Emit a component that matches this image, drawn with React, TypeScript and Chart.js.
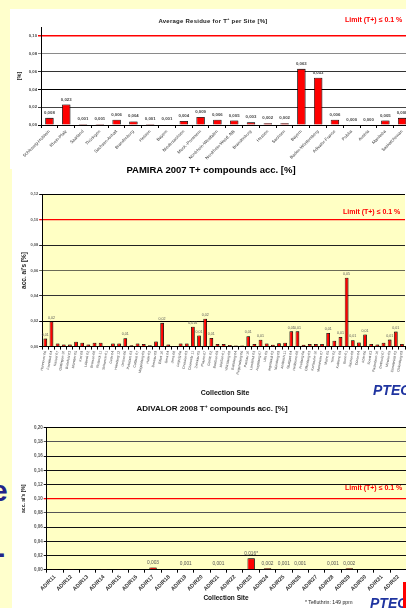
import React, { useEffect, useRef } from "react";
import { Chart, registerables } from "chart.js";

Chart.register(...registerables);

const FONT = "'Liberation Sans', Arial, Helvetica, sans-serif";
const LIMIT = 0.1;
const Y_STEP = 0.02;

// ---------- Chart 1: Average Residue for T+ per Site ----------
const residueSites = [
  "Schleswig-Holstein", "Rhein-Pfalz", "Saarland", "Thüringen", "Sachsen-Anhalt",
  "Brandenburg", "Hessen", "Bayern", "Niedersachsen", "Meck.-Pommern",
  "Nordrhein-Westfalen", "Nordrhein-Westf. NB", "Brandenburg", "Hessen", "Sachsen",
  "Bayern", "Baden-Württemberg", "Adivalor-France", "Polska", "Austria",
  "Manitoba", "Saskatchewan",
];
const residueValues = [
  0.008, 0.023, 0.001, 0.001, 0.006, 0.004, 0.001, 0.0006, 0.0045, 0.009,
  0.006, 0.005, 0.003, 0.002, 0.002, 0.063, 0.053, 0.006, 0, 0, 0.005, 0.008,
];
const residueValueLabels = [
  "0,008", "0,023", "0,001", "0,001", "0,006", "0,004", "0,001", "0,001", "0,004", "0,009",
  "0,006", "0,005", "0,003", "0,002", "0,002", "0,063", "0,053", "0,006", "0,000", "0,000",
  "0,005", "0,008",
];
const residueYMax = 0.11;

// ---------- Chart 2: PAMIRA 2007 ----------
const pamiraSites = [
  "Hannover 06", "Frankfurt 04", "Kassel 07", "Göttingen 10", "Bielefeld 03",
  "Münster 05", "Kiel 09", "Lübeck 02", "Bremen 08", "Rostock 11",
  "Schwerin 01", "Celle 04", "Hamburg 12", "Uelzen 06", "Potsdam 03",
  "Cottbus 07", "Magdeburg 05", "Halle 02", "Dessau 09", "Erfurt 10",
  "Gera 04", "Jena 08", "Leipzig 06", "Dresden 03", "Chemnitz 11",
  "Zwickau 05", "Plauen 07", "Görlitz 02", "Bautzen 09", "Meißen 01",
  "Würzburg 08", "Bamberg 04", "Regensburg 06", "Passau 10", "Landshut 03",
  "Augsburg 07", "Ulm 05", "Ingolstadt 02", "Nürnberg 09", "Ansbach 11",
  "Stuttgart 04", "Heilbronn 08", "Freiburg 06", "Offenburg 03", "Karlsruhe 10",
  "Mannheim 07", "Mainz 05", "Trier 02", "Koblenz 09", "Bonn 01",
  "Aachen 08", "Düren 04", "Köln 06", "Soest 03", "Paderborn 10",
  "Detmold 07", "Minden 05", "Osnabrück 02", "Oldenburg 09",
];
const pamiraValues = [
  0.0063, 0.0198, 0.0025, 0.0016, 0.0016, 0.0038, 0.003, 0.0016, 0.003, 0.003,
  0, 0.0025, 0.0025, 0.0066, 0.001, 0.0025, 0.002, 0.001, 0.004, 0.0187,
  0.0016, 0, 0.0025, 0.0025, 0.0157, 0.0088, 0.022, 0.0068, 0.002, 0.002,
  0.0013, 0.0008, 0.0008, 0.0082, 0.002, 0.0054, 0.0025, 0.0014, 0.0027, 0.003,
  0.012, 0.012, 0.0014, 0.002, 0.002, 0.002, 0.0107, 0.0046, 0.0076, 0.0542,
  0.005, 0.0033, 0.0096, 0.002, 0.0016, 0.003, 0.0055, 0.0118, 0.002,
];
const pamiraValueLabels = [
  "0,01", "0,02", "", "", "", "", "", "", "", "",
  "", "", "", "0,01", "", "", "", "", "", "0,02",
  "", "", "", "", "0,016", "0,01", "0,02", "0,01", "", "",
  "", "", "", "0,01", "", "0,01", "", "", "", "",
  "0,01", "0,01", "", "", "", "", "0,01", "", "0,01", "0,05",
  "0,01", "", "0,01", "", "", "", "0,01", "0,01", "",
];
const pamiraYMax = 0.12;

// ---------- Chart 3: ADIVALOR 2008 ----------
const adivalorSites = [
  "ADIR11", "ADIR12", "ADIR13", "ADIR14", "ADIR15", "ADIR16", "ADIR17", "ADIR18",
  "ADIR19", "ADIR20", "ADIR21", "ADIR22", "ADIR23", "ADIR24", "ADIR25", "ADIR26",
  "ADIR27", "ADIR28", "ADIR29", "ADIR30", "ADIR31", "ADIR32",
];
const adivalorValues = [
  0.001, 0.001, 0, 0.001, 0.001, 0, 0.003, 0, 0.001, 0, 0.001,
  0.0005, 0.016, 0.002, 0.001, 0.001, 0, 0.001, 0.002, 0, 0, 0,
];
const adivalorValueLabels = [
  "", "", "", "", "", "", "0,003", "", "0,001", "", "0,001",
  "", "0,016*", "0,002", "0,001", "0,001", "", "0,001", "0,002", "", "", "",
];
const adivalorYMax = 0.2;

// ---------- plugins ----------
const plotBgPlugin = {
  id: "plotBg",
  beforeDraw(chart: any, _a: any, opts: any) {
    if (!opts || !opts.color) return;
    const { ctx, chartArea: a } = chart;
    ctx.save();
    ctx.fillStyle = opts.color;
    ctx.fillRect(a.left, a.top, a.right - a.left, a.bottom - a.top);
    ctx.restore();
  },
};

const barShadowPlugin = {
  id: "barShadow",
  beforeDatasetsDraw(chart: any, _a: any, opts: any) {
    const ctx = chart.ctx;
    ctx.save();
    ctx.shadowColor = (opts && opts.color) || "rgba(0,0,0,0.35)";
    ctx.shadowOffsetX = (opts && opts.dx) || 1.5;
    ctx.shadowOffsetY = (opts && opts.dy) || 0;
    ctx.shadowBlur = 0;
  },
  afterDatasetsDraw(chart: any) {
    chart.ctx.restore();
  },
};

const valueLabelPlugin = {
  id: "valueLabels",
  afterDraw(chart: any, _a: any, opts: any) {
    if (!opts || !opts.labels) return;
    const ctx = chart.ctx;
    const meta = chart.getDatasetMeta(0);
    ctx.save();
    ctx.font = opts.font;
    ctx.fillStyle = opts.color;
    ctx.textAlign = "center";
    ctx.textBaseline = "bottom";
    meta.data.forEach((el: any, i: number) => {
      const t = opts.labels[i];
      if (t) ctx.fillText(t, el.x, el.y - opts.offset);
    });
    ctx.restore();
  },
};

type PanelProps = {
  categories: string[];
  values: number[];
  valueLabels: string[];
  yMax: number;
  geo: { left: number; top: number; width: number; height: number; padTop: number; padRight: number; yWidth: number; xHeight: number };
  barPct: number;
  plotColor: string | null;
  grayLines: Record<string, string>;
  yTick: { size: number; color: string };
  xTick: { size: number; weight: string; color: string; rotation: number };
  yTitle: { text: string; size: number; pad: number };
  valueFont: string;
  valueColor: string;
  valueOffset: number;
  limitWidth: number;
};

function BarPanel(p: PanelProps) {
  const ref = useRef<HTMLCanvasElement>(null);
  useEffect(() => {
    if (!ref.current) return;
    const g = p.geo;
    const gridColor = (c: any) => {
      const v = c.tick ? c.tick.value : 0;
      if (Math.abs(v - LIMIT) < 1e-6) return "#FF0000";
      return p.grayLines[Number(v).toFixed(2)] || "#111111";
    };
    const gridWidth = (c: any) => {
      const v = c.tick ? c.tick.value : 0;
      return Math.abs(v - LIMIT) < 1e-6 ? p.limitWidth : 1;
    };
    const chart = new Chart(ref.current, {
      type: "bar",
      data: {
        labels: p.categories,
        datasets: [
          {
            data: p.values,
            backgroundColor: "#FF0000",
            borderColor: "#000000",
            borderWidth: 0.8,
            barPercentage: p.barPct,
            categoryPercentage: 1,
          },
        ],
      },
      options: {
        animation: false,
        responsive: false,
        maintainAspectRatio: false,
        layout: { padding: { top: g.padTop, right: g.padRight, left: 0, bottom: 0 } },
        plugins: {
          legend: { display: false },
          tooltip: { enabled: false },
          title: { display: false },
          plotBg: { color: p.plotColor },
          barShadow: { color: "rgba(0,0,0,0.35)", dx: 1.5, dy: 0 },
          valueLabels: { labels: p.valueLabels, font: p.valueFont, color: p.valueColor, offset: p.valueOffset },
        } as any,
        scales: {
          x: {
            grid: { display: true, drawOnChartArea: false, drawTicks: true, tickLength: 3, color: "#000", offset: true },
            border: { display: true, color: "#000", width: 1 },
            ticks: {
              autoSkip: false,
              minRotation: p.xTick.rotation,
              maxRotation: p.xTick.rotation,
              font: { family: FONT, size: p.xTick.size, weight: p.xTick.weight as any },
              color: p.xTick.color,
              padding: 1,
            },
            afterFit: (s: any) => {
              s.height = g.xHeight;
              s.paddingLeft = 0;
              s.paddingRight = 0;
            },
          },
          y: {
            min: 0,
            max: p.yMax,
            ticks: {
              stepSize: Y_STEP,
              includeBounds: false,
              callback: (v: any) => Number(v).toFixed(2).replace(".", ","),
              font: { family: FONT, size: p.yTick.size, weight: "bold" },
              color: p.yTick.color,
              padding: 1,
            },
            grid: { color: gridColor, lineWidth: gridWidth, tickLength: 3 },
            border: { display: true, color: "#000", width: 1 },
            title: {
              display: true,
              text: p.yTitle.text,
              font: { family: FONT, size: p.yTitle.size, weight: "bold" },
              color: "#222",
              padding: { top: p.yTitle.pad, bottom: 0 },
            },
            afterFit: (s: any) => {
              s.width = g.yWidth;
            },
          },
        },
      } as any,
      plugins: [plotBgPlugin, barShadowPlugin, valueLabelPlugin] as any,
    });
    return () => chart.destroy();
  }, []);
  const g = p.geo;
  return (
    <canvas
      ref={ref}
      width={g.width}
      height={g.height}
      style={{ position: "absolute", left: g.left, top: g.top, width: g.width, height: g.height }}
    />
  );
}

function Txt(props: { style: React.CSSProperties; children: React.ReactNode }) {
  return (
    <div style={{ position: "absolute", whiteSpace: "nowrap", fontFamily: FONT, lineHeight: 1, ...props.style }}>
      {props.children}
    </div>
  );
}

const limitText = "Limit (T+) \u2264 0.1 %";

export default function App() {
  return (
    <div
      style={{
        position: "fixed",
        left: 0,
        top: 0,
        width: 406,
        height: 608,
        overflow: "hidden",
        background: "#FFFFCC",
      }}
    >
      <div style={{ position: "absolute", left: 10, top: 9, width: 396, height: 160, background: "#FFFFFF" }} />
      <div style={{ position: "absolute", left: 12, top: 160, width: 394, height: 448, background: "#FFFFFF" }} />

      {/* left strip fragments */}
      <Txt style={{ left: -9, top: 476, fontSize: 30, fontWeight: "bold", color: "#23238A" }}>e</Txt>
      <Txt style={{ left: -5, top: 538, fontSize: 30, fontWeight: "bold", color: "#23238A" }}>-</Txt>

      {/* Chart 1 */}
      <BarPanel
        categories={residueSites}
        values={residueValues}
        valueLabels={residueValueLabels}
        yMax={residueYMax}
        geo={{ left: 10, top: 9, width: 402, height: 160, padTop: 18, padRight: 1.5, yWidth: 31, xHeight: 44 }}
        barPct={0.5}
        plotColor={null}
        grayLines={{ "0.02": "#444444", "0.04": "#000000", "0.06": "#333333", "0.08": "#8a8a8a", "0.00": "#000000" }}
        yTick={{ size: 4.2, color: "#444" }}
        xTick={{ size: 4.3, weight: "normal", color: "#333", rotation: 45 }}
        yTitle={{ text: "[%]", size: 5.5, pad: 5.7 }}
        valueFont={`bold 4.3px ${FONT}`}
        valueColor="#444"
        valueOffset={3}
        limitWidth={1.5}
      />
      <Txt style={{ left: 113, width: 200, textAlign: "center", top: 17, fontSize: 6, fontWeight: "bold", letterSpacing: 0.25, color: "#222" }}>
        Average Residue for T<sup style={{ fontSize: 4, verticalAlign: 3 }}>+</sup> per Site [%]
      </Txt>
      <Txt style={{ left: 345, top: 15.6, fontSize: 7, fontWeight: "bold", color: "#FF0000" }}>{limitText}</Txt>

      {/* Chart 2 */}
      <Txt style={{ left: 61, width: 300, textAlign: "center", top: 165.3, fontSize: 9.5, fontWeight: "bold", color: "#000" }}>
        PAMIRA 2007 T+ compounds acc. [%]
      </Txt>
      <BarPanel
        categories={pamiraSites}
        values={pamiraValues}
        valueLabels={pamiraValueLabels}
        yMax={pamiraYMax}
        geo={{ left: 12, top: 185, width: 394, height: 200, padTop: 9.3, padRight: 1, yWidth: 30.2, xHeight: 38.4 }}
        barPct={0.6}
        plotColor="#FFFFC4"
        grayLines={{ "0.02": "#000000", "0.04": "#333333", "0.06": "#6b6b55", "0.08": "#222222", "0.12": "#000000", "0.00": "#000000" }}
        yTick={{ size: 4, color: "#555" }}
        xTick={{ size: 3.5, weight: "normal", color: "#444", rotation: 80 }}
        yTitle={{ text: "acc. ai's [%]", size: 6.5, pad: 8.6 }}
        valueFont={`3.6px ${FONT}`}
        valueColor="#555"
        valueOffset={2}
        limitWidth={1.3}
      />
      <Txt style={{ left: 343, top: 207.6, fontSize: 7, fontWeight: "bold", color: "#FF0000" }}>{limitText}</Txt>
      <Txt style={{ left: 75, width: 300, textAlign: "center", top: 388.6, fontSize: 7, fontWeight: "bold", color: "#111" }}>
        Collection Site
      </Txt>
      <Txt style={{ left: 373, top: 383, fontSize: 14, fontWeight: "bold", fontStyle: "italic", color: "#1F34A0" }}>PTEG</Txt>

      {/* Chart 3 */}
      <Txt style={{ left: 62, width: 300, textAlign: "center", top: 404, fontSize: 8, fontWeight: "bold", color: "#111" }}>
        ADIVALOR 2008 T<sup style={{ fontSize: 5, verticalAlign: 3 }}>+</sup> compounds acc. [%]
      </Txt>
      <BarPanel
        categories={adivalorSites}
        values={adivalorValues}
        valueLabels={adivalorValueLabels}
        yMax={adivalorYMax}
        geo={{ left: 12, top: 415, width: 395, height: 180, padTop: 12.7, padRight: 0.5, yWidth: 34.7, xHeight: 25.3 }}
        barPct={0.45}
        plotColor="#FFFFC4"
        grayLines={{ "0.08": "#555555", "0.18": "#555555", "0.20": "#000000", "0.00": "#000000" }}
        yTick={{ size: 4.5, color: "#555" }}
        xTick={{ size: 5.5, weight: "bold", color: "#333", rotation: 45 }}
        yTitle={{ text: "acc. ai's [%]", size: 5, pad: 9 }}
        valueFont={`4.8px ${FONT}`}
        valueColor="#555"
        valueOffset={2.5}
        limitWidth={1.3}
      />
      <Txt style={{ left: 345, top: 483.6, fontSize: 7, fontWeight: "bold", color: "#FF0000" }}>{limitText}</Txt>
      <Txt style={{ left: 76, width: 300, textAlign: "center", top: 594.8, fontSize: 6.5, fontWeight: "bold", color: "#111" }}>
        Collection Site
      </Txt>
      <Txt style={{ left: 305, top: 599.5, fontSize: 5.2, color: "#222" }}>* Tefluthrin: 149 ppm</Txt>
      <Txt style={{ left: 370, top: 596, fontSize: 14, fontWeight: "bold", fontStyle: "italic", color: "#1F34A0" }}>PTEG</Txt>
      <div style={{ position: "absolute", left: 403, top: 582, width: 3, height: 26, background: "#FF0000" }} />
    </div>
  );
}
